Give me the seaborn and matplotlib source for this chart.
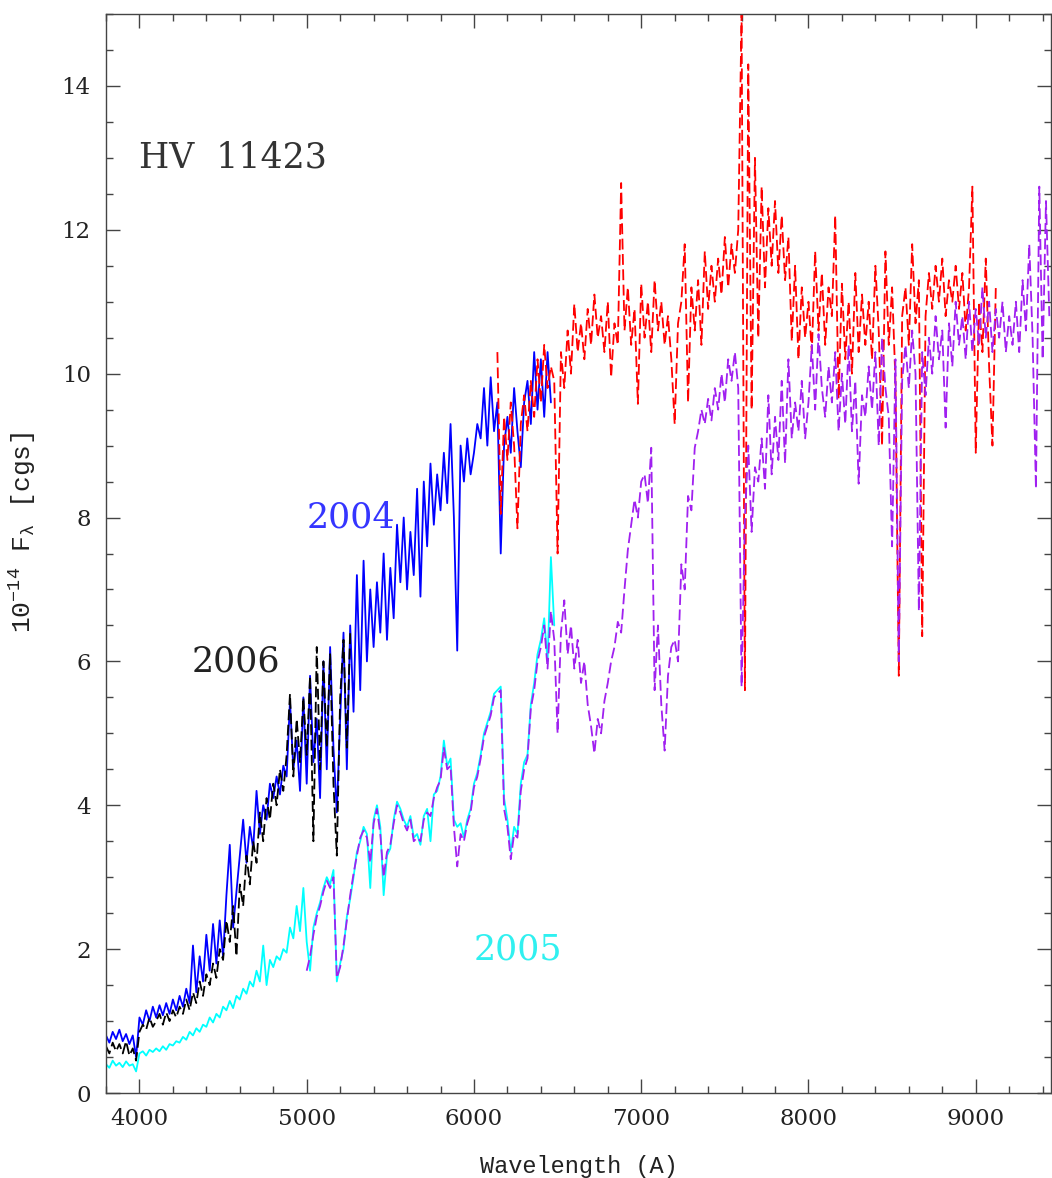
import numpy as np
import matplotlib
matplotlib.use("Agg")
import matplotlib.pyplot as plt
from matplotlib.ticker import MultipleLocator
import seaborn as sns

# spectra digitised on a 20 A grid, flux in 1e-14 cgs
STEP = 20

START_2004_BLUE = 3800
FLUX_2004_BLUE = [
    0.80, 0.70, 0.85, 0.75, 0.88, 0.72, 0.82, 0.68, 0.80, 0.50,
    1.05, 0.95, 1.15, 1.00, 1.20, 1.05, 1.22, 1.08, 1.25, 1.10,
    1.30, 1.15, 1.35, 1.20, 1.45, 1.25, 2.05, 1.40, 1.90, 1.55,
    2.20, 1.70, 2.35, 1.80, 2.40, 1.90, 2.75, 3.45, 2.30, 2.80,
    3.30, 3.80, 3.20, 3.70, 3.40, 4.20, 3.60, 4.00, 3.80, 4.30,
    4.10, 4.40, 4.15, 4.55, 4.40, 5.45, 4.50, 4.90, 4.20, 5.50,
    4.30, 5.80, 4.60, 5.20, 4.10, 6.00, 4.50, 6.20, 4.80, 3.90,
    5.20, 6.40, 4.50, 6.50, 5.30, 7.20, 5.60, 7.40, 6.00, 7.00,
    6.20, 7.10, 6.40, 7.50, 6.30, 7.30, 6.60, 7.90, 7.10, 8.00,
    7.00, 7.80, 7.20, 8.40, 6.90, 8.50, 7.60, 8.75, 7.90, 8.60,
    8.10, 8.90, 8.20, 9.30, 8.00, 6.15, 9.00, 8.50, 9.10, 8.60,
    8.90, 9.30, 9.10, 9.80, 9.00, 9.95, 9.20, 9.60, 7.50, 9.00,
    9.40, 8.90, 9.80, 9.20, 8.70, 9.60, 9.90, 9.30, 10.30, 9.50,
    10.20, 9.40, 10.30, 9.60,
]

START_2006 = 3800
FLUX_2006 = [
    0.65, 0.55, 0.70, 0.58, 0.68, 0.55, 0.72, 0.52, 0.62, 0.45,
    0.85, 0.95, 0.88, 1.05, 0.92, 1.00, 1.10, 0.95, 1.12, 1.00,
    1.15, 1.05, 1.20, 1.10, 1.30, 1.15, 1.40, 1.25, 1.55, 1.35,
    1.65, 1.50, 1.80, 1.60, 2.00, 1.85, 2.40, 2.10, 2.60, 1.90,
    2.90, 2.60, 3.30, 2.90, 3.50, 3.20, 3.90, 3.50, 4.10, 3.80,
    4.30, 4.00, 4.50, 4.20, 4.70, 5.55, 4.40, 5.20, 4.60, 5.50,
    4.70, 5.80, 3.50, 6.20, 4.50, 6.00, 4.80, 6.10, 4.30, 3.30,
    5.50, 6.30, 4.80, 6.40,
]

START_2005 = 3800
FLUX_2005 = [
    0.40, 0.35, 0.45, 0.38, 0.42, 0.36, 0.44, 0.38, 0.40, 0.30,
    0.55, 0.58, 0.52, 0.60, 0.57, 0.62, 0.58, 0.65, 0.60, 0.68,
    0.66, 0.72, 0.70, 0.78, 0.74, 0.85, 0.80, 0.90, 0.85, 0.95,
    0.92, 1.05, 0.98, 1.10, 1.05, 1.20, 1.15, 1.28, 1.18, 1.35,
    1.30, 1.45, 1.38, 1.55, 1.48, 1.70, 1.55, 2.05, 1.50, 1.85,
    1.75, 1.90, 1.85, 2.00, 1.95, 2.30, 2.15, 2.60, 2.25, 2.85,
    2.10, 1.70, 2.30, 2.50, 2.65, 2.85, 3.00, 2.90, 3.10, 1.55,
    1.80, 2.00, 2.45, 2.70, 3.00, 3.35, 3.50, 3.70, 3.60, 2.85,
    3.80, 4.00, 3.70, 2.75, 3.30, 3.40, 3.80, 4.05, 3.95, 3.80,
    3.70, 3.85, 3.55, 3.60, 3.45, 3.85, 3.95, 3.50, 4.15, 4.20,
    4.40, 4.90, 4.55, 4.65, 3.80, 3.70, 3.75, 3.55, 3.80, 3.95,
    4.30, 4.45, 4.70, 5.00, 5.15, 5.30, 5.55, 5.60, 5.65, 4.10,
    3.80, 3.35, 3.70, 3.60, 4.30, 4.60, 4.70, 5.40, 5.70, 6.10,
    6.30, 6.60, 6.00, 7.45, 6.50,
]

START_2005_RED = 5000
FLUX_2005_RED = [
    1.70, 1.90, 2.20, 2.45, 2.60, 2.80, 2.95, 2.85, 3.00, 1.60,
    1.75, 2.05, 2.40, 2.75, 3.05, 3.30, 3.55, 3.65, 3.55, 3.20,
    3.75, 3.95, 3.60, 3.00, 3.35, 3.45, 3.75, 4.00, 3.90, 3.75,
    3.65, 3.80, 3.50, 3.55, 3.50, 3.80, 3.90, 3.85, 4.10, 4.25,
    4.35, 4.80, 4.50, 4.55, 3.70, 3.15, 3.60, 3.50, 3.75, 3.90,
    4.25, 4.40, 4.65, 4.95, 5.10, 5.25, 5.50, 5.55, 5.60, 3.95,
    3.70, 3.25, 3.60, 3.55, 4.20, 4.50, 4.65, 5.35, 5.60, 6.00,
    6.20, 6.50, 5.90, 6.70, 6.30, 5.00, 6.40, 6.85, 6.10, 6.50,
    5.90, 6.30, 5.70, 6.00, 5.40, 5.10, 4.72, 5.20, 5.00, 5.45,
    5.70, 6.00, 6.20, 6.55, 6.40, 7.00, 7.55, 7.90, 8.25, 8.00,
    8.50, 8.60, 8.20, 8.97, 5.60, 6.50, 5.40, 4.76, 5.80, 6.20,
    6.30, 6.00, 7.35, 7.00, 8.30, 8.10, 8.97, 9.20, 9.50, 9.30,
    9.65, 9.35, 9.80, 9.50, 10.00, 9.60, 10.20, 9.90, 10.30, 9.80,
    5.65, 8.00, 9.00, 7.80, 8.70, 8.50, 9.10, 8.40, 9.70, 8.60,
    9.40, 8.80, 9.90, 8.75, 10.20, 9.10, 9.60, 9.20, 9.90, 9.10,
    9.60, 10.40, 9.50, 10.55, 9.80, 9.40, 10.10, 9.60, 10.30, 9.20,
    10.00, 9.30, 10.40, 9.20, 9.90, 8.47, 9.70, 9.40, 10.10, 9.50,
    10.30, 9.00, 10.50, 9.80, 9.40, 7.60, 10.20, 6.00, 9.90, 10.40,
    9.80, 10.60, 10.00, 6.70, 10.30, 9.70, 10.50, 10.00, 10.80, 10.20,
    10.60, 9.25, 10.70, 10.10, 11.00, 10.40, 10.80, 10.20, 11.00, 10.30,
    10.90, 10.40, 11.20, 10.50, 11.00, 10.30, 10.90, 10.50, 11.00, 10.30,
    10.80, 10.40, 11.00, 10.30, 11.30, 10.60, 11.80, 10.50, 8.40, 12.60,
    10.20, 12.40, 10.80,
]

START_2004_RED = 6140
FLUX_2004_RED = [
    10.30, 8.05, 9.40, 8.80, 9.60, 9.00, 7.85, 9.30, 9.70, 9.20,
    9.90, 9.40, 10.20, 9.60, 10.40, 9.80, 10.10, 9.90, 7.50, 10.30,
    9.80, 10.60, 10.00, 10.97, 10.30, 10.70, 10.20, 10.90, 10.40, 11.10,
    10.50, 10.80, 10.30, 11.00, 9.95, 10.70, 10.40, 12.65, 10.60, 11.20,
    10.40, 10.90, 9.58, 11.25, 10.50, 11.00, 10.30, 11.30, 10.60, 11.00,
    10.40, 10.80, 10.20, 9.30, 10.70, 11.00, 11.80, 9.60, 11.20, 10.60,
    11.30, 10.40, 11.70, 10.90, 11.50, 11.00, 11.60, 11.10, 11.90, 11.20,
    11.80, 11.40, 12.00, 15.00, 5.60, 14.30, 9.50, 13.00, 10.50, 12.60,
    11.20, 12.30, 11.50, 12.40, 11.40, 12.20, 11.30, 11.90, 10.45, 11.50,
    10.20, 11.20, 10.50, 11.00, 10.30, 11.70, 10.60, 11.40, 10.40, 11.20,
    10.80, 12.20, 9.65, 11.25, 10.20, 11.00, 10.00, 11.40, 10.30, 11.10,
    10.40, 11.00, 10.20, 11.50, 10.60, 9.00, 11.70, 10.40, 11.20, 9.90,
    5.80, 10.80, 11.20, 10.40, 11.80, 10.70, 11.30, 6.35, 10.80, 11.40,
    10.90, 11.50, 11.00, 11.60, 10.80, 11.30, 11.00, 11.50, 10.90, 11.40,
    10.60, 11.20, 12.60, 8.90, 11.00, 10.30, 11.60, 10.10, 9.00, 11.20,
]

LABELS = ["2004", "2006", "2005"]
LABEL_X = [5000, 4310, 6000]
LABEL_Y = [8.0, 6.0, 2.0]
LABEL_COLORS = ["#3535ff", "#222222", "#30f0f0"]


def draw(ax, start, flux, color, dashed):
    wl = start + STEP * np.arange(len(flux))
    sns.lineplot(
        x=wl,
        y=flux,
        ax=ax,
        color=color,
        linewidth=1.3,
        estimator=None,
        sort=False,
    )
    line = ax.lines[-1]
    if dashed:
        line.set_dashes((6, 2.5))


sns.set_theme(style="ticks")
plt.rcParams["font.family"] = ["DejaVu Serif"]
plt.rcParams["mathtext.fontset"] = "dejavuserif"

fig = plt.figure(figsize=(10.52, 11.78), dpi=100)
ax = fig.add_axes([106 / 1052, 85 / 1178, 945 / 1052, 1079 / 1178])

draw(ax, START_2004_BLUE, FLUX_2004_BLUE, "#0000ff", False)
draw(ax, START_2006, FLUX_2006, "#000000", True)
draw(ax, START_2005, FLUX_2005, "#00ffff", False)
draw(ax, START_2004_RED, FLUX_2004_RED, "#ff0000", True)
draw(ax, START_2005_RED, FLUX_2005_RED, "#a020f0", True)

ax.set_xlim(3800, 9450)
ax.set_ylim(0, 15)

ax.xaxis.set_major_locator(MultipleLocator(1000))
ax.xaxis.set_minor_locator(MultipleLocator(200))
ax.yaxis.set_major_locator(MultipleLocator(2))
ax.yaxis.set_minor_locator(MultipleLocator(0.5))

ax.tick_params(
    which="both", direction="in", top=True, right=True,
    color="#444444", width=1.0,
)
ax.tick_params(which="major", length=10, labelsize=16.5, pad=11,
               labelcolor="#222222")
ax.tick_params(which="minor", length=5)

for spine in ax.spines.values():
    spine.set_color("#444444")
    spine.set_linewidth(1.0)

ax.set_xlabel("Wavelength (A)", family="Liberation Mono", fontsize=17,
              color="#222222", labelpad=18)
ax.set_ylabel(r"$\mathregular{10^{-14}}$ F$_{\mathregular{\lambda}}$ [cgs]",
              family="Liberation Mono", fontsize=19, color="#222222")
ax.yaxis.set_label_coords(-0.072, 0.52)

ax.text(4000, 13.0, "HV  11423", fontsize=25, color="#333333",
        ha="left", va="center")
for label, x, y, c in zip(LABELS, LABEL_X, LABEL_Y, LABEL_COLORS):
    ax.text(x, y, label, fontsize=25, color=c, ha="left", va="center")

fig.savefig("out.png", dpi=100)
plt.close(fig)
